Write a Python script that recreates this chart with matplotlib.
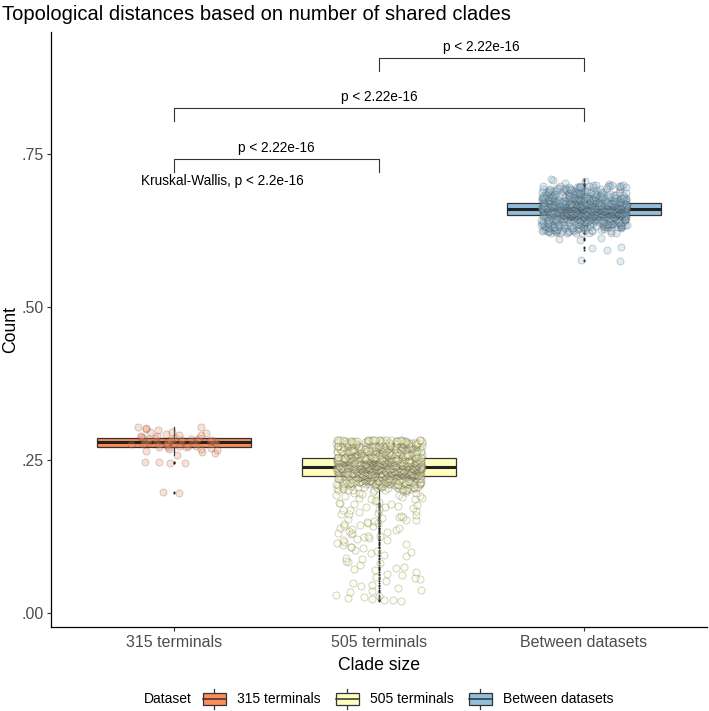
import numpy as np
import matplotlib.pyplot as plt
from matplotlib.legend_handler import HandlerBase
from matplotlib.patches import Rectangle
from matplotlib.lines import Line2D

plt.rcParams['font.family'] = ['Liberation Sans', 'DejaVu Sans']

groups = ['315 terminals', '505 terminals', 'Between datasets']
colors = ['#FC8D59', '#FFFFBF', '#91BFDB']

# values are distances x 1000
# 315 terminals: one value per visible circle
d315 = [196, 197, 244, 245, 246, 246, 258, 261, 263, 265, 266, 267, 268, 269, 270,
        271, 271, 272, 273, 273, 274, 275, 275, 276, 276, 277, 277, 278, 278, 278,
        279, 279, 280, 280, 281, 281, 282, 282, 283, 283, 284, 284, 285, 285, 285,
        286, 287, 288, 289, 290, 291, 292, 293, 295, 296, 298, 300, 302, 303, 304]

# 505 terminals: sparse tail (one per circle) + dense band (count per 0.001 step)
tail505 = [19, 20, 21, 22, 24, 26, 27, 29, 33, 35, 37, 41, 44, 46, 48, 52, 55, 57,
           59, 62, 64, 66, 69, 72, 73, 75, 78, 81, 83, 85, 88, 90, 92, 94, 97, 99,
           101, 103, 105, 107, 108, 111, 113, 114, 116, 118, 119, 121, 122, 123,
           125, 126, 128, 130, 131, 132, 134, 135, 137, 138, 139, 141, 142, 144,
           145, 146, 147, 149, 150, 151, 152, 153, 155, 156, 157, 158, 160, 161,
           162, 163, 165, 166, 167, 168, 169, 171, 172, 173, 174, 176, 177, 178,
           179, 180, 181, 183, 184, 185, 186, 187, 188, 189, 190, 191, 192, 193,
           194, 195, 196, 196, 197, 198, 199]
band505_lo = [200, 210, 224, 239, 254]
band505_hi = [209, 223, 238, 253, 283]
band505_n = [4, 9, 20, 20, 9]

# Between datasets: sparse values outside the dense band + dense band
extra_btw = [575, 576, 593, 596, 597, 609, 611, 612, 701, 703, 706, 707, 708]
band_btw_lo = [620, 630, 640, 649, 660, 670, 680, 690]
band_btw_hi = [629, 639, 648, 659, 669, 679, 689, 699]
band_btw_n = [4, 8, 8, 22, 24, 10, 6, 4]

# significance brackets: (group a, group b, bracket height)
brackets = [(1, 2, 0.742), (1, 3, 0.825), (2, 3, 0.907)]
p_label = 'p < 2.22e-16'
kw_label = 'Kruskal-Wallis, p < 2.2e-16'


def expand(lo, hi, n):
    parts = [np.repeat(np.arange(a, b + 1), k) for a, b, k in zip(lo, hi, n)]
    return np.concatenate(parts)


def jitter(n, seed, width=0.21):
    # deterministic hash jitter for x positions
    i = np.arange(n) + seed
    u = np.sin(i * 12.9898) * 43758.5453
    u = u - np.floor(u)
    return (u - 0.5) * 2 * width


data = [np.array(d315) / 1000,
        np.concatenate([tail505, expand(band505_lo, band505_hi, band505_n)]) / 1000,
        np.concatenate([extra_btw, expand(band_btw_lo, band_btw_hi, band_btw_n)]) / 1000]


class BoxKey(HandlerBase):
    def create_artists(self, legend, orig_handle, xdescent, ydescent,
                       width, height, fontsize, trans):
        cx = width / 2 - xdescent
        cy = height / 2 - ydescent
        bh = height * 0.58
        wl = Line2D([cx, cx], [-ydescent, height - ydescent],
                    color='#333333', lw=0.9, transform=trans)
        box = Rectangle((-xdescent, cy - bh / 2), width, bh,
                        facecolor=orig_handle.get_facecolor(), edgecolor='#333333',
                        lw=0.9, transform=trans)
        med = Line2D([-xdescent, width - xdescent], [cy, cy], color='#333333',
                     lw=1.1, transform=trans)
        return [wl, box, med]


fig = plt.figure(figsize=(7.09, 7.11), dpi=100)
ax = fig.add_axes([51 / 709, 1 - 627 / 711, 656 / 709, (627 - 32) / 711])

bp = ax.boxplot(data, positions=[1, 2, 3], widths=0.75, patch_artist=True,
                showcaps=False, whis=1.5,
                boxprops=dict(edgecolor='#333333', lw=0.9),
                whiskerprops=dict(color='#333333', lw=0.9),
                medianprops=dict(color='#222222', lw=2.2),
                flierprops=dict(marker='o', markersize=1.4, markerfacecolor='#222222',
                                markeredgecolor='none'),
                zorder=2)
for patch, c in zip(bp['boxes'], colors):
    patch.set_facecolor(c)

for k, (vals, c) in enumerate(zip(data, colors)):
    xs = k + 1 + jitter(len(vals), seed=17 * k + 3)
    ax.scatter(xs, vals, s=26, facecolor=c, edgecolor='#3d3d3d', linewidths=0.6,
               alpha=0.27, zorder=3)

# brackets
for a, b, h in brackets:
    ax.plot([a, a, b, b], [h - 0.021, h, h, h - 0.021], color='#333333', lw=0.8, zorder=4)
    ax.text((a + b) / 2, h + 0.017, p_label, ha='center', va='center', fontsize=9.8)
ax.text(0.84, 0.706, kw_label, ha='left', va='center', fontsize=9.8)

ax.set_xlim(0.4, 3.6)
ax.set_ylim(-0.0234, 0.949)
ax.set_xticks([1, 2, 3])
ax.set_xticklabels(groups)
ax.set_yticks([0, 0.25, 0.5, 0.75])
ax.set_yticklabels(['.00', '.25', '.50', '.75'])
ax.tick_params(axis='both', length=3, width=0.8, color='#333333', labelcolor='#4D4D4D',
               labelsize=11.5, pad=2.5)
for s in ['top', 'right']:
    ax.spines[s].set_visible(False)
for s in ['left', 'bottom']:
    ax.spines[s].set_linewidth(0.9)
ax.set_xlabel('Clade size', fontsize=12.7, labelpad=5)
fig.text(11 / 709, 1 - 329 / 711, 'Count', rotation=90, ha='center', va='center',
         fontsize=12.7)

fig.text(2 / 709, 1 - 14 / 711, 'Topological distances based on number of shared clades',
         ha='left', va='center', fontsize=14.5)

handles = [Rectangle((0, 0), 1, 1, facecolor=c) for c in colors]
fig.legend(handles, groups, handler_map={Rectangle: BoxKey()}, loc='center left',
           bbox_to_anchor=(203 / 709, 1 - 699 / 711), ncol=3, frameon=False,
           fontsize=10, handlelength=1.65, handleheight=1.75, handletextpad=0.8,
           columnspacing=1.1, borderpad=0, borderaxespad=0)
fig.text(144 / 709, 1 - 699 / 711, 'Dataset', ha='left', va='center', fontsize=10)

fig.savefig('out.png', dpi=100)
